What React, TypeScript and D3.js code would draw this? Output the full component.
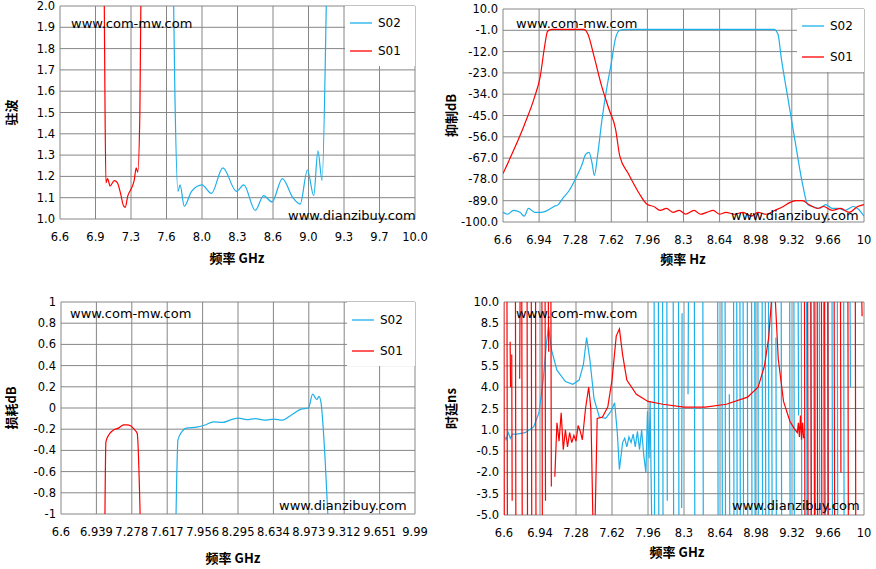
import React from 'react';
import { scaleLinear, line, curveMonotoneX, curveLinear } from 'd3';

// ---- data ----
const vswrTicksX = ['6.6', '6.9', '7.3', '7.6', '8.0', '8.3', '8.6', '9.0', '9.3', '9.7', '10.0'];
const vswrTicksY = ['1.0', '1.1', '1.2', '1.3', '1.4', '1.5', '1.6', '1.7', '1.8', '1.9', '2.0'];
const vswrS01: [number, number][] = [
  [7.02, 2.3], [7.03, 1.6], [7.04, 1.17], [7.055, 1.19], [7.08, 1.155], [7.12, 1.18], [7.15, 1.17],
  [7.18, 1.12], [7.21, 1.06], [7.225, 1.055], [7.25, 1.11], [7.28, 1.14], [7.31, 1.18], [7.33, 1.24],
  [7.345, 1.22], [7.365, 1.5], [7.38, 2.3],
];
const vswrS02: [number, number][] = [
  [7.68, 2.3], [7.7, 1.6], [7.73, 1.13], [7.75, 1.16], [7.79, 1.06], [7.86, 1.13], [7.96, 1.16],
  [8.05, 1.12], [8.16, 1.24], [8.29, 1.13], [8.36, 1.16], [8.47, 1.04], [8.55, 1.11], [8.63, 1.08],
  [8.73, 1.19], [8.83, 1.1], [8.9, 1.07], [8.97, 1.23], [9.03, 1.11], [9.07, 1.32], [9.11, 1.18],
  [9.15, 2.0], [9.16, 2.3],
];

const rejTicksX = ['6.6', '6.94', '7.28', '7.62', '7.96', '8.3', '8.64', '8.98', '9.32', '9.66', '10'];
const rejTicksY = ['-100.0', '-89.0', '-78.0', '-67.0', '-56.0', '-45.0', '-34.0', '-23.0', '-12.0', '-1.0', '10.0'];
const rejS01: [number, number][] = [
  [6.6, -75], [6.7, -63], [6.8, -50], [6.9, -35], [6.95, -25], [6.99, -10], [7.02, -1.5], [7.06, -0.5],
  [7.36, -0.5], [7.4, -3], [7.46, -15], [7.53, -30], [7.6, -42], [7.66, -52], [7.7, -66], [7.78, -75],
  [7.88, -85], [7.96, -91], [8.02, -92], [8.08, -94], [8.14, -93], [8.2, -95], [8.26, -94], [8.32, -96],
  [8.4, -94], [8.46, -96], [8.52, -95], [8.58, -94], [8.64, -96], [8.7, -95], [8.78, -96], [8.86, -95],
  [8.94, -97], [9.0, -95], [9.08, -96], [9.16, -94], [9.24, -92], [9.3, -90], [9.36, -89], [9.42, -89],
  [9.48, -91], [9.56, -93], [9.62, -92], [9.7, -94], [9.78, -93], [9.86, -95], [9.94, -92], [10, -91],
];
const rejS02: [number, number][] = [
  [6.6, -95], [6.64, -96], [6.7, -94], [6.76, -95], [6.8, -97], [6.84, -93], [6.9, -95], [6.96, -95],
  [7.02, -94], [7.08, -92], [7.12, -91], [7.16, -88], [7.22, -84], [7.28, -78], [7.34, -71], [7.38, -65],
  [7.41, -64], [7.44, -70], [7.46, -76], [7.49, -66], [7.53, -48], [7.58, -30], [7.62, -18], [7.66, -5],
  [7.7, -1], [7.75, -0.5], [9.15, -0.5], [9.19, -3], [9.22, -15], [9.28, -35], [9.35, -58], [9.42, -80],
  [9.47, -91], [9.52, -92], [9.58, -93], [9.64, -91], [9.7, -93], [9.76, -93], [9.82, -94], [9.9, -92],
  [9.94, -93], [10, -97],
];

const lossTicksX = ['6.6', '6.939', '7.278', '7.617', '7.956', '8.295', '8.634', '8.973', '9.312', '9.651', '9.99'];
const lossTicksY = ['-1', '-0.8', '-0.6', '-0.4', '-0.2', '0', '0.2', '0.4', '0.6', '0.8', '1'];
const lossS01: [number, number][] = [
  [7.02, -1.1], [7.03, -0.32], [7.06, -0.25], [7.1, -0.21], [7.15, -0.19], [7.2, -0.16], [7.23, -0.16],
  [7.27, -0.17], [7.3, -0.2], [7.33, -0.24], [7.36, -1.1],
];
const lossS02: [number, number][] = [
  [7.7, -1.1], [7.72, -0.3], [7.76, -0.22], [7.8, -0.19], [7.9, -0.18], [7.98, -0.16], [8.06, -0.13],
  [8.15, -0.135], [8.23, -0.11], [8.3, -0.095], [8.38, -0.11], [8.46, -0.1], [8.55, -0.115],
  [8.64, -0.105], [8.72, -0.115], [8.8, -0.07], [8.9, -0.01], [8.97, 0.0], [9.01, 0.13], [9.05, 0.08],
  [9.07, 0.11], [9.09, 0.05], [9.13, -0.5], [9.16, -1.1],
];

const delayTicksY = ['-5.0', '-3.5', '-2.0', '-0.5', '1.0', '2.5', '4.0', '5.5', '7.0', '8.5', '10.0'];
// smooth part of S02 group delay
const delayS02Body: [number, number][] = [
  [6.6, 0.6], [6.62, 0.3], [6.64, 0.8], [6.66, 0.4], [6.68, 0.7], [6.72, 0.7], [6.8, 0.8], [6.88, 1.2],
  [6.93, 2.2], [6.97, 4.5], [7.0, 7.0], [7.02, 8.3], [7.05, 6.6], [7.1, 5.2], [7.18, 4.4], [7.25, 4.2],
  [7.31, 4.5], [7.35, 5.6], [7.38, 7.5], [7.41, 6.0], [7.45, 3.2], [7.5, 1.9], [7.56, 1.8], [7.61, 2.3],
  [7.645, 2.9], [7.67, 0.8], [7.69, -1.8], [7.72, 0.1], [7.74, 0.4], [7.76, -0.2], [7.78, 0.5],
  [7.8, 0.1], [7.82, 0.7], [7.84, -0.2], [7.86, 0.9], [7.88, -0.4], [7.9, 1.0], [7.92, -0.8],
  [7.94, -2.0], [7.955, 2.3], [7.97, -1.0], [7.98, 3.0], [7.995, -5.5],
];
// S02 spikes: [freq, from, to]
const delayS02Spikes: [number, number, number][] = [
  [8.02, 10.5, -5.5], [8.06, 10.5, -5.5], [8.1, 10.5, -5.5], [8.14, 10.5, -4],
  [8.2, 10.5, -5.5], [8.25, 10.5, -5.5], [8.28, -4.5, 9.2], [8.34, 3.5, 10.5], [8.4, 10.5, -5.5],
  [8.48, 10.5, -5.5], [8.62, 10.5, -5.5], [8.66, 10.5, -5.5], [8.69, 10.5, -5.5], [8.73, 3.5, -5.5],
  [8.77, 10.5, -5.5], [8.8, 10.5, -5.5], [8.83, 10.5, -5.5], [8.86, 10.5, -5.5], [8.9, 10.5, -5.5],
  [8.94, 10.5, -5.5], [8.97, 10.5, -5.5], [9.0, 10.5, -5.5], [9.04, 10.5, -5.5], [9.07, 10.5, -5.5],
  [9.1, 10.5, -5.5], [9.13, 10.5, -5.5], [9.17, 7.5, -5.5], [9.22, 10.5, -5.5], [9.3, 10.5, -5.5],
  [9.34, 10.5, -5.5], [9.38, 10.5, 2.0], [9.41, 10.5, -5.5], [9.46, 10.5, -5.5], [9.5, 10.5, -5.5],
  [9.54, 10.5, -5.5], [9.58, 10.5, -5.5], [9.62, 10.5, -5.5], [9.66, 10.5, -5.5], [9.7, 10.5, -5.5],
  [9.75, 10.5, -5.5], [9.81, 10.5, -5.5], [9.87, 10.5, 4.0],
];
const delayS01SpikesLow: [number, number, number][] = [
  [6.6, 10.5, -5.5], [6.63, 10.5, -5.5], [6.66, 7.2, 4.0], [6.675, 6.3, -4.0], [6.71, 10.5, -5.5],
  [6.75, 4.6, 10.5], [6.77, 10.5, -5.5], [6.82, 10.5, -5.5], [6.86, 10.5, -5.5], [6.9, 10.5, -5.5],
  [6.96, 10.5, -5.5], [6.99, 10.5, -4.0], [7.02, 10.5, 6.5], [7.045, 10.5, -3.0],
];
const delayS01Body: [number, number][] = [
  [7.08, -2.3], [7.1, 1.5], [7.12, 0.2], [7.14, 2.2], [7.16, -0.4], [7.18, 1.0], [7.2, -0.2],
  [7.22, 0.8], [7.24, 0.1], [7.26, 0.6], [7.28, 0.2], [7.3, 1.3], [7.32, 0.9], [7.34, 0.3],
  [7.37, 2.5], [7.4, 4.0], [7.42, 2.5], [7.44, -5.5], [7.46, -5.5], [7.48, 1.8], [7.53, 1.9],
  [7.58, 2.6], [7.62, 4.5], [7.66, 7.6], [7.69, 8.1], [7.72, 6.3], [7.76, 4.5], [7.85, 3.5],
  [7.96, 3.0], [8.1, 2.8], [8.3, 2.6], [8.5, 2.6], [8.7, 2.8], [8.9, 3.3], [9.0, 4.0], [9.06, 5.5],
  [9.1, 7.5], [9.13, 10.5], [9.16, 10.5], [9.19, 6.0], [9.24, 3.0], [9.3, 1.6], [9.34, 1.1],
  [9.37, 0.8], [9.38, 1.5], [9.39, 0.5], [9.4, 2.0], [9.41, 0.3], [9.42, 1.5], [9.43, 0.4],
];
const delayS01SpikesHigh: [number, number, number][] = [
  [9.44, 10.5, -5.5], [9.47, 10.5, -5.5], [9.5, 10.5, -5.5], [9.53, 10.5, -5.5], [9.56, 10.5, -5.5],
  [9.6, 10.5, -5.5], [9.63, 10.5, -5.5], [9.66, 10.5, -5.5], [9.72, 10.5, -5.5], [9.78, 10.5, -2.0],
  [9.85, 10.5, -5.5], [9.92, 10.5, -5.5], [9.98, 10.5, 9.0],
];

// each spike is its own near-vertical stroke, separated by a gap
const spikePts = (s: [number, number, number][]): [number, number][] =>
  s.flatMap(([f, a, b]) => [[f, NaN], [f - 0.002, a], [f + 0.002, b]] as [number, number][]);
const delayS02 = [...delayS02Body, ...spikePts(delayS02Spikes)];
const delayS01 = [...spikePts(delayS01SpikesLow), [7.06, NaN] as [number, number], ...delayS01Body, ...spikePts(delayS01SpikesHigh)];

const BLUE = '#1EB0EA';
const RED = '#FF0000';
const FONT = 'DejaVu Sans, Verdana, sans-serif';
const CJK = '"Noto Sans CJK SC", sans-serif';

interface PanelProps {
  id: string;
  left: number; right: number; top: number; bottom: number;
  xDom: [number, number]; yDom: [number, number];
  xLabels: string[]; yLabels: string[];
  yTitle: string; xTitle: string; xTitleX: number; xTitleY: number; yTitleX: number;
  s01: [number, number][]; s02: [number, number][];
  smooth: boolean;
  legend?: { x0: number; x1: number; y0: number; y1: number; ya: number; yb: number };
  wm1: [number, number]; wm2: [number, number];
}

const Panel: React.FC<PanelProps> = (p) => {
  const x = scaleLinear().domain(p.xDom).range([p.left, p.right]);
  const y = scaleLinear().domain(p.yDom).range([p.bottom, p.top]);
  const n = p.xLabels.length - 1;
  const xv = p.xLabels.map((_, i) => p.xDom[0] + (i * (p.xDom[1] - p.xDom[0])) / n);
  const yv = p.yLabels.map((_, i) => p.yDom[0] + (i * (p.yDom[1] - p.yDom[0])) / n);
  const gen = line<[number, number]>()
    .defined((d) => !isNaN(d[1]))
    .x((d) => x(d[0]))
    .y((d) => y(d[1]))
    .curve(p.smooth ? curveMonotoneX : curveLinear);
  const lg = p.legend;
  return (
    <g>
      <defs>
        <clipPath id={p.id}>
          <rect x={p.left} y={p.top} width={p.right - p.left} height={p.bottom - p.top} />
        </clipPath>
      </defs>
      {xv.map((v, i) => (
        <line key={'gx' + i} x1={x(v)} x2={x(v)} y1={p.top} y2={p.bottom} stroke="#868686" />
      ))}
      {yv.map((v, i) => (
        <line key={'gy' + i} x1={p.left} x2={p.right} y1={y(v)} y2={y(v)} stroke="#868686" />
      ))}
      {xv.map((v, i) => (
        <text key={'tx' + i} x={x(v)} y={p.bottom + 22} textAnchor="middle" fontSize={11.5} fontFamily={FONT}>
          {p.xLabels[i]}
        </text>
      ))}
      {yv.map((v, i) => (
        <text key={'ty' + i} x={p.left - 5} y={y(v) + 4} textAnchor="end" fontSize={11.5} fontFamily={FONT}>
          {p.yLabels[i]}
        </text>
      ))}
      {lg && <rect x={lg.x0} y={lg.y0} width={lg.x1 - lg.x0} height={lg.y1 - lg.y0} fill="#fff" />}
      <g clipPath={`url(#${p.id})`} fill="none" strokeWidth={1.2}>
        <path d={gen(p.s02) || ''} stroke={BLUE} />
        <path d={gen(p.s01) || ''} stroke={RED} />
      </g>
      {lg && (
        <g fontSize={12} fontFamily={FONT}>
          <line x1={lg.x0 + 5} x2={lg.x0 + 27} y1={lg.ya} y2={lg.ya} stroke={BLUE} strokeWidth={1.3} />
          <text x={lg.x0 + 33} y={lg.ya + 4}>S02</text>
          <line x1={lg.x0 + 5} x2={lg.x0 + 27} y1={lg.yb} y2={lg.yb} stroke={RED} strokeWidth={1.3} />
          <text x={lg.x0 + 33} y={lg.yb + 4}>S01</text>
        </g>
      )}
      <text x={p.wm1[0]} y={p.wm1[1]} fontSize={13} fontFamily={FONT}>www.com-mw.com</text>
      <text x={p.wm2[0]} y={p.wm2[1]} fontSize={13} fontFamily={FONT}>www.dianzibuy.com</text>
      <text x={p.xTitleX} y={p.xTitleY} textAnchor="middle" fontSize={13} fontWeight="bold" fontFamily={CJK}>
        {p.xTitle}
      </text>
      <text
        transform={`translate(${p.yTitleX},${(p.top + p.bottom) / 2}) rotate(-90)`}
        textAnchor="middle" fontSize={13} fontWeight="bold" fontFamily={CJK}
      >
        {p.yTitle}
      </text>
    </g>
  );
};

export default function App() {
  return (
    <div style={{ position: 'absolute', left: 0, top: 0, width: 876, height: 569, background: '#fff' }}>
      <svg width={876} height={569}>
        <Panel id="c1" left={60} right={415} top={6} bottom={219} xDom={[6.6, 10]} yDom={[1, 2]}
          xLabels={vswrTicksX} yLabels={vswrTicksY} yTitle="驻波" xTitle="频率 GHz"
          xTitleX={237} xTitleY={263} yTitleX={16} s01={vswrS01} s02={vswrS02} smooth
          legend={{ x0: 345, x1: 415, y0: 6, y1: 66, ya: 23, yb: 51 }} wm1={[71, 28]} wm2={[288, 220]} />
        <Panel id="c2" left={503} right={864} top={9} bottom={222} xDom={[6.6, 10]} yDom={[-100, 10]}
          xLabels={rejTicksX} yLabels={rejTicksY} yTitle="抑制dB" xTitle="频率 Hz"
          xTitleX={683} xTitleY={264} yTitleX={456} s01={rejS01} s02={rejS02} smooth
          legend={{ x0: 797, x1: 864, y0: 9, y1: 72, ya: 26, yb: 57 }} wm1={[516, 28]} wm2={[731, 220]} />
        <Panel id="c3" left={61} right={415} top={302} bottom={514} xDom={[6.6, 9.99]} yDom={[-1, 1]}
          xLabels={lossTicksX} yLabels={lossTicksY} yTitle="损耗dB" xTitle="频率 GHz"
          xTitleX={233} xTitleY={563} yTitleX={16} s01={lossS01} s02={lossS02} smooth
          legend={{ x0: 347, x1: 415, y0: 302, y1: 366, ya: 320, yb: 351 }} wm1={[70, 318]} wm2={[279, 510]} />
        <Panel id="c4" left={504} right={864} top={302} bottom={515} xDom={[6.6, 10]} yDom={[-5, 10]}
          xLabels={rejTicksX} yLabels={delayTicksY} yTitle="时延ns" xTitle="频率 GHz"
          xTitleX={677} xTitleY={557} yTitleX={456} s01={delayS01} s02={delayS02} smooth={false}
          wm1={[516, 318]} wm2={[732, 510]} />
      </svg>
    </div>
  );
}
